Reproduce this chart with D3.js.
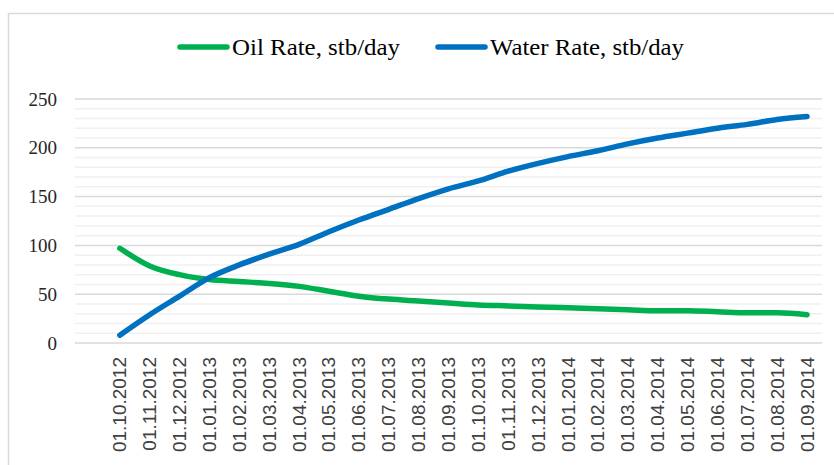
<!DOCTYPE html>
<html>
<head>
<meta charset="utf-8">
<script src="https://cdn.jsdelivr.net/npm/d3@7"></script>
<style>
  html, body { margin: 0; padding: 0; background: #fff; }
  svg { display: block; }
</style>
</head>
<body>
<div id="chart"></div>
<script>
// monthly production
const dates = [
  '01.10.2012', '01.11.2012', '01.12.2012', '01.01.2013', '01.02.2013', '01.03.2013',
  '01.04.2013', '01.05.2013', '01.06.2013', '01.07.2013', '01.08.2013', '01.09.2013',
  '01.10.2013', '01.11.2013', '01.12.2013', '01.01.2014', '01.02.2014', '01.03.2014',
  '01.04.2014', '01.05.2014', '01.06.2014', '01.07.2014', '01.08.2014', '01.09.2014'
]
const oilRate = [97, 79, 70, 65, 63, 61, 58, 53, 48, 45, 43, 41, 39, 38, 37, 36, 35, 34, 33, 33, 32, 31, 31, 29]
const waterRate = [8, 29, 48, 67, 80, 91, 101, 114, 126, 137, 148, 158, 166, 176, 184, 191, 197, 204, 210, 215, 220, 224, 229, 232]
const yTicks = [0, 50, 100, 150, 200, 250]
const seriesNames = ['Oil Rate, stb/day', 'Water Rate, stb/day']

const width = 834
const height = 465
const plot = { left: 75, right: 822, top: 99, bottom: 343 }
const colors = { oil: '#00b050', water: '#0070c0' }

const svg = d3.select('#chart')
  .append('svg')
  .attr('width', width)
  .attr('height', height)

// chart frame (runs off the right and bottom edge like the reference)
svg.append('rect')
  .attr('x', 8.5)
  .attr('y', 13.5)
  .attr('width', 840)
  .attr('height', 470)
  .attr('fill', '#fff')
  .attr('stroke', '#d9d9d9')
  .attr('stroke-width', 1.5)

// first slot on the category axis is an empty one
const x = d3.scaleBand()
  .domain(['', ...dates])
  .range([plot.left, plot.right])
  .padding(0)

const y = d3.scaleLinear()
  .domain([0, 250])
  .range([plot.bottom, plot.top])

const cx = d => x(d) + x.bandwidth() / 2

// minor gridlines every 10
const grid = svg.append('g')
grid.selectAll('.minor')
  .data(d3.range(10, 250, 10).filter(v => v % 50 !== 0))
  .join('line')
  .attr('class', 'minor')
  .attr('x1', plot.left).attr('x2', plot.right)
  .attr('y1', d => y(d)).attr('y2', d => y(d))
  .attr('stroke', '#f0f0f0')
  .attr('stroke-width', 1.5)

grid.selectAll('.major')
  .data(yTicks)
  .join('line')
  .attr('class', 'major')
  .attr('x1', plot.left).attr('x2', plot.right)
  .attr('y1', d => y(d)).attr('y2', d => y(d))
  .attr('stroke', '#d9d9d9')
  .attr('stroke-width', 1.5)

// y axis labels
const yAxis = d3.axisLeft(y).tickValues(yTicks).tickSize(0).tickPadding(0)
svg.append('g')
  .attr('transform', 'translate(57,0)')
  .call(yAxis)
  .call(g => g.select('.domain').remove())
  .call(g => g.selectAll('text')
    .attr('font-family', '"Liberation Serif", "Times New Roman", serif')
    .attr('font-size', '19px')
    .attr('fill', '#262626'))

// x axis labels, rotated
svg.append('g')
  .selectAll('text')
  .data(dates)
  .join('text')
  .attr('transform', d => `translate(${cx(d) + 6.5},357) rotate(-90)`)
  .attr('text-anchor', 'end')
  .attr('font-family', '"Liberation Sans", Arial, sans-serif')
  .attr('font-size', '19px')
  .attr('fill', '#404040')
  .text(d => d)

// lines
const line = d3.line()
  .x((d, i) => cx(dates[i]))
  .y(d => y(d))
  .curve(d3.curveMonotoneX)

svg.append('path')
  .datum(oilRate)
  .attr('d', line)
  .attr('fill', 'none')
  .attr('stroke', colors.oil)
  .attr('stroke-width', 5.5)
  .attr('stroke-linecap', 'round')
  .attr('stroke-linejoin', 'round')

svg.append('path')
  .datum(waterRate)
  .attr('d', line)
  .attr('fill', 'none')
  .attr('stroke', colors.water)
  .attr('stroke-width', 5.5)
  .attr('stroke-linecap', 'round')
  .attr('stroke-linejoin', 'round')

// legend
const legendItems = [
  { name: seriesNames[0], color: colors.oil, x: 180, textLen: 168 },
  { name: seriesNames[1], color: colors.water, x: 438, textLen: 194 }
]
const legend = svg.append('g')
  .selectAll('g')
  .data(legendItems)
  .join('g')
  .attr('transform', d => `translate(${d.x},47)`)

legend.append('line')
  .attr('x1', 0).attr('x2', 47)
  .attr('stroke', d => d.color)
  .attr('stroke-width', 5.5)
  .attr('stroke-linecap', 'round')

legend.append('text')
  .attr('x', 52)
  .attr('y', 8)
  .attr('font-family', '"Liberation Serif", "Times New Roman", serif')
  .attr('font-size', '24px')
  .attr('fill', '#000')
  .attr('textLength', d => d.textLen)
  .attr('lengthAdjust', 'spacingAndGlyphs')
  .text(d => d.name)
</script>
</body>
</html>
